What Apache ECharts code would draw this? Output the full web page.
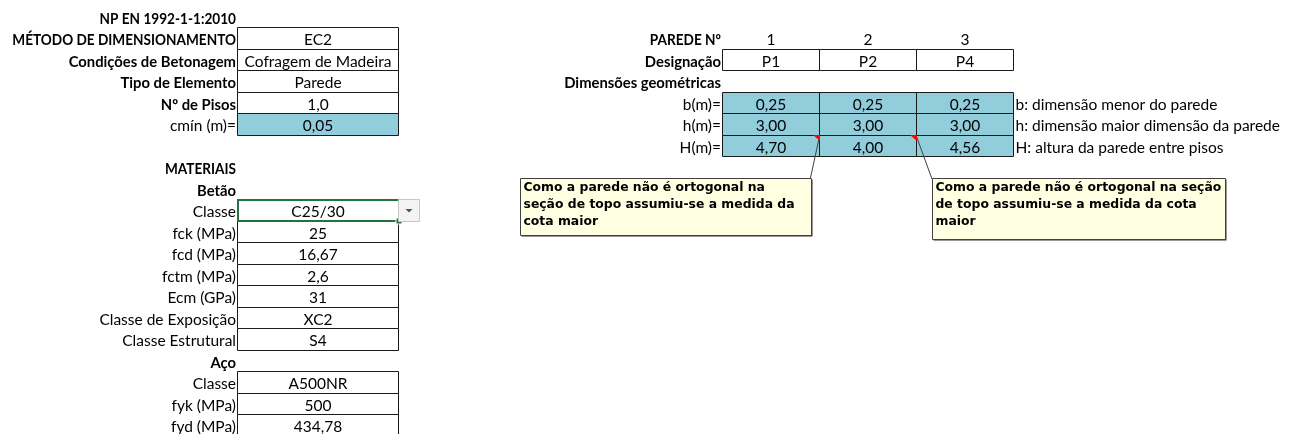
<!DOCTYPE html>
<html>
<head>
<meta charset="utf-8">
<script src="https://cdn.jsdelivr.net/npm/echarts@6/dist/echarts.min.js"></script>
<style>
html,body{margin:0;padding:0;background:#fff;}
#chart{width:1292px;height:434px;}
</style>
</head>
<body>
<div id="chart"></div>
<script>
// ---------------- DATA ----------------
const sheetTitle = 'NP EN 1992-1-1:2010';
const generalLabels = ['MÉTODO DE DIMENSIONAMENTO', 'Condições de Betonagem', 'Tipo de Elemento', 'Nº de Pisos', 'cmín (m)='];
const generalValues = ['EC2', 'Cofragem de Madeira', 'Parede', '1,0', '0,05'];
const materiaisTitle = 'MATERIAIS';
const betaoTitle = 'Betão';
const betaoLabels = ['Classe', 'fck (MPa)', 'fcd (MPa)', 'fctm (MPa)', 'Ecm (GPa)', 'Classe de Exposição', 'Classe Estrutural'];
const betaoValues = ['C25/30', '25', '16,67', '2,6', '31', 'XC2', 'S4'];
const acoTitle = 'Aço';
const acoLabels = ['Classe', 'fyk (MPa)', 'fyd (MPa)'];
const acoValues = ['A500NR', '500', '434,78'];

const paredeHeader = 'PAREDE Nº';
const paredeNumbers = ['1', '2', '3'];
const designacaoLabel = 'Designação';
const designacoes = ['P1', 'P2', 'P4'];
const dimTitle = 'Dimensões geométricas';
const dimLabels = ['b(m)=', 'h(m)=', 'H(m)='];
const dimB = [0.25, 0.25, 0.25];
const dimh = [3.00, 3.00, 3.00];
const dimH = [4.70, 4.00, 4.56];
const dimNotes = ['b: dimensão menor do parede', 'h: dimensão maior dimensão da parede', 'H: altura da parede entre pisos'];
const comment1Lines = ['Como a parede não é ortogonal na', 'seção de topo assumiu-se a medida da', 'cota maior'];
const comment2Lines = ['Como a parede não é ortogonal na seção', 'de topo assumiu-se a medida da cota', 'maior'];
const commentedWalls = [0, 1]; // H(m) cells of wall 1 and 2 carry comments

// ---------------- LAYOUT ----------------
// x axis: sheet horizontal units; y axis: sheet row units (row k spans k..k+1)
const COL = {
  labL: [0, 237.5],
  valL: [237.5, 398.5],
  drop: [398.5, 419.5],
  labR: [520, 722.5],
  w: [[722.5, 819.5], [819.5, 916.5], [916.5, 1013.5]],
  note: [1013.5, 1292]
};
const FONT = 'Lato, "Open Sans", sans-serif';
const FS = 15.5;
const FS_BOLD = 14.8;
const CAPS_SCALE = 0.92;
const BLUE = '#92CDDC';

function fmt2(v) { return v.toFixed(2).replace('.', ','); }

const cells = [];
function add(x0, x1, r0, r1, props) { cells.push(Object.assign({ x0, x1, r0, r1 }, props)); }

// Left block
add(COL.labL[0], COL.labL[1], 0, 1, { type: 'labelR', text: sheetTitle, bold: true });
generalLabels.forEach((l, i) => {
  const last = i === generalLabels.length - 1;
  add(COL.labL[0], COL.labL[1], 1 + i, 2 + i, { type: 'labelR', text: l, bold: !last });
  add(COL.valL[0], COL.valL[1], 1 + i, 2 + i, { type: 'box', text: generalValues[i], fill: last ? BLUE : '#fff' });
});
add(COL.labL[0], COL.labL[1], 7, 8, { type: 'labelR', text: materiaisTitle, bold: true });
add(COL.labL[0], COL.labL[1], 8, 9, { type: 'labelR', text: betaoTitle, bold: true });
betaoLabels.forEach((l, i) => {
  add(COL.labL[0], COL.labL[1], 9 + i, 10 + i, { type: 'labelR', text: l });
  add(COL.valL[0], COL.valL[1], 9 + i, 10 + i, { type: 'box', text: betaoValues[i], fill: '#fff' });
});
add(COL.labL[0], COL.labL[1], 16, 17, { type: 'labelR', text: acoTitle, bold: true });
acoLabels.forEach((l, i) => {
  add(COL.labL[0], COL.labL[1], 17 + i, 18 + i, { type: 'labelR', text: l });
  add(COL.valL[0], COL.valL[1], 17 + i, 18 + i, { type: 'box', text: acoValues[i], fill: '#fff' });
});
// selection + dropdown on Betão Classe
add(COL.valL[0], COL.valL[1], 9, 10, { type: 'selection' });
add(COL.drop[0], COL.drop[1], 9, 10, { type: 'dropdown' });

// Right block
add(COL.labR[0], COL.labR[1], 1, 2, { type: 'labelR', text: paredeHeader, bold: true });
paredeNumbers.forEach((n, i) => add(COL.w[i][0], COL.w[i][1], 1, 2, { type: 'center', text: n }));
add(COL.labR[0], COL.labR[1], 2, 3, { type: 'labelR', text: designacaoLabel, bold: true });
designacoes.forEach((d, i) => add(COL.w[i][0], COL.w[i][1], 2, 3, { type: 'box', text: d, fill: '#fff' }));
add(COL.labR[0], COL.labR[1], 3, 4, { type: 'labelR', text: dimTitle, bold: true });
[dimB, dimh, dimH].forEach((arr, j) => {
  add(COL.labR[0], COL.labR[1], 4 + j, 5 + j, { type: 'labelR', text: dimLabels[j] });
  arr.forEach((v, i) => add(COL.w[i][0], COL.w[i][1], 4 + j, 5 + j, { type: 'box', text: fmt2(v), fill: BLUE }));
  add(COL.note[0], COL.note[1], 4 + j, 5 + j, { type: 'labelL', text: dimNotes[j] });
});
// comments (flag at top-right of H cell, box below)
const commentBoxes = [
  { x0: 520, x1: 811, r0: 8.02, r1: 10.67, ax: 810, lines: comment1Lines },
  { x0: 932, x1: 1225, r0: 7.98, r1: 10.86, ax: 932, lines: comment2Lines }
];
commentedWalls.forEach((w, k) => {
  const b = commentBoxes[k];
  add(b.x0, b.x1, b.r0, b.r1, { type: 'comment', lines: b.lines, ax: b.ax, fx: COL.w[w][1], fr: 6 });
  add(COL.w[w][0], COL.w[w][1], 6, 7, { type: 'flag' });
});

// ---------------- RENDER ----------------
function crisp(v) { return Math.round(v - 0.5) + 0.5; }

function renderItem(params, api) {
  const c = cells[params.dataIndex];
  const p0 = api.coord([api.value(0), api.value(2)]);
  const p1 = api.coord([api.value(1), api.value(3)]);
  const x0 = p0[0], y0 = p0[1], x1 = p1[0], y1 = p1[1];
  const cy = (y0 + y1) / 2 + 1.5;
  const txt = (x, align, text, bold) => {
    const caps = bold && text === text.toUpperCase();
    return {
      type: 'text',
      x: x, y: cy,
      scaleX: caps ? CAPS_SCALE : 1,
      style: { x: 0, y: 0, text, align, verticalAlign: 'middle', fill: '#000', font: (bold ? 'bold ' + FS_BOLD : FS) + 'px ' + FONT }
    };
  };
  switch (c.type) {
    case 'labelR': return txt(x1 - 1.5, 'right', c.text, c.bold);
    case 'labelL': return txt(x0 + 2, 'left', c.text, c.bold);
    case 'center': return txt((x0 + x1) / 2, 'center', c.text, c.bold);
    case 'box': {
      const rx0 = crisp(x0), ry0 = crisp(y0), rx1 = crisp(x1), ry1 = crisp(y1);
      return { type: 'group', children: [
        { type: 'rect', shape: { x: rx0, y: ry0, width: rx1 - rx0, height: ry1 - ry0 }, style: { fill: c.fill, stroke: '#1a1a1a', lineWidth: 1 } },
        txt((x0 + x1) / 2, 'center', c.text, c.bold)
      ] };
    }
    case 'selection': {
      const rx0 = Math.round(x0), ry0 = Math.round(y0), rx1 = Math.round(x1), ry1 = Math.round(y1);
      return { type: 'group', children: [
        { type: 'rect', shape: { x: rx0, y: ry0, width: rx1 - rx0, height: ry1 - ry0 }, style: { fill: 'none', stroke: '#217346', lineWidth: 2 } },
        { type: 'rect', shape: { x: rx1 - 3, y: ry1 - 3, width: 6, height: 6 }, style: { fill: '#217346', stroke: '#fff', lineWidth: 1 } }
      ] };
    }
    case 'dropdown': {
      const rx0 = crisp(x0), ry0 = crisp(y0), rx1 = crisp(x1), ry1 = crisp(y1);
      const mx = (rx0 + rx1) / 2, my = (ry0 + ry1) / 2;
      return { type: 'group', children: [
        { type: 'rect', shape: { x: rx0, y: ry0, width: rx1 - rx0, height: ry1 - ry0 }, style: { fill: '#f3f3f3', stroke: '#c6c6c6', lineWidth: 1 } },
        { type: 'polygon', shape: { points: [[mx - 3.5, my - 1.5], [mx + 3.5, my - 1.5], [mx, my + 2]] }, style: { fill: '#555' } }
      ] };
    }
    case 'flag': {
      const rx1 = Math.round(x1), ry0 = Math.round(y0);
      return { type: 'polygon', shape: { points: [[rx1 - 7, ry0], [rx1, ry0], [rx1, ry0 + 6]] }, style: { fill: '#ff0000' } };
    }
    case 'comment': {
      const rx0 = crisp(x0), ry0 = crisp(y0), rx1 = crisp(x1), ry1 = crisp(y1);
      const fp = api.coord([c.fx, c.fr]);
      const ap = api.coord([c.ax, c.r0]);
      const children = [
        { type: 'line', shape: { x1: ap[0], y1: ap[1] + 1, x2: fp[0], y2: fp[1] + 1 }, style: { stroke: '#404040', lineWidth: 1 } },
        { type: 'rect', shape: { x: rx0 + 1, y: ry0 + 1, width: rx1 - rx0, height: ry1 - ry0 }, style: { fill: '#303030' } },
        { type: 'rect', shape: { x: rx0, y: ry0, width: rx1 - rx0, height: ry1 - ry0 }, style: { fill: '#ffffe1', stroke: '#404040', lineWidth: 1 } }
      ];
      c.lines.forEach((l, i) => {
        children.push({ type: 'text', style: { x: rx0 + 3, y: ry0 + 9.5 + i * 17, text: l, align: 'left', verticalAlign: 'middle', fill: '#000', font: 'bold 12.4px Tahoma, "DejaVu Sans", sans-serif' } });
      });
      return { type: 'group', children };
    }
  }
  return null;
}

const chart = echarts.init(document.getElementById('chart'), null, { renderer: 'canvas' });
chart.setOption({
  animation: false,
  backgroundColor: '#ffffff',
  grid: { left: 0, top: 0, width: 1292, height: 434 },
  xAxis: { type: 'value', min: 0, max: 1292, show: false },
  yAxis: { type: 'value', min: -0.302, max: 19.884, inverse: true, show: false },
  series: [{
    type: 'custom',
    coordinateSystem: 'cartesian2d',
    renderItem,
    clip: true,
    data: cells.map(c => [c.x0, c.x1, c.r0, c.r1])
  }]
});
</script>
</body>
</html>
